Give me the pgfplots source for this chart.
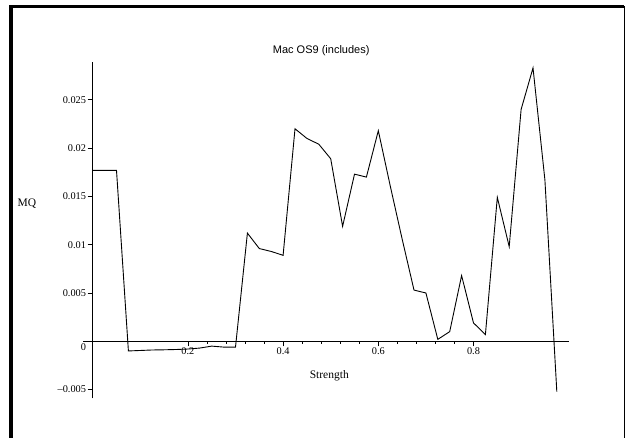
\documentclass[border=0pt]{standalone}
\usepackage{pgfplots}
\pgfplotsset{compat=1.18}
\usepackage{fontspec}
\setmainfont{Liberation Serif}
\newfontfamily\arial{Liberation Sans}
\begin{document}
\begin{tikzpicture}[x=1bp,y=1bp]
\useasboundingbox (0,0) rectangle (627,438);
% window frame
\draw[line width=3.5bp] (10.75,0) -- (10.75,431.5) -- (624,431.5);
\draw[line width=1bp] (624,431.5) -- (624,0);
\begin{axis}[
  at={(92.7bp,96.7bp)}, anchor=origin,
  x=476bp, y=9660bp,
  xmin=-0.02, xmax=1.0,
  ymin=-0.0059, ymax=0.02894,
  axis lines=middle,
  axis line style={line width=0.8bp, -},
  scaled x ticks=false, scaled y ticks=false,
  xtick={0.2,0.4,0.6,0.8},
  xticklabels={0.2,0.4,0.6,0.8},
  ytick={-0.005,0.005,0.01,0.015,0.02,0.025},
  yticklabels={–0.005,0.005,0.01,0.015,0.02,0.025},
  extra y ticks={0},
  extra y tick labels={0},
  extra y tick style={yticklabel style={yshift=-5.5bp}},
  hide obscured y ticks=false,
  minor x tick num=4,
  minor y tick num=4,
  tick align=outside,
  major tick length=5bp,
  minor tick length=2.5bp,
  tick style={line width=0.6bp, black},
  tick label style={font=\fontsize{10.3bp}{12bp}\selectfont},
  yticklabel style={inner sep=1.5bp},
  xticklabel style={inner sep=1.5bp},
  title={\arial Mac OS9 (includes)},
  title style={at={(axis cs:0.480,0.02919)}, anchor=base, font=\fontsize{11bp}{13bp}\selectfont, inner sep=0pt},
  xlabel={Strength},
  xlabel style={at={(axis cs:0.497,-0.00383)}, anchor=base, font=\fontsize{11.5bp}{13bp}\selectfont, inner sep=0pt},
  ylabel={MQ},
  ylabel style={at={(axis cs:-0.138,0.01398)}, anchor=base, rotate=0, font=\fontsize{11.5bp}{13bp}\selectfont, inner sep=0pt},
  clip=false,
]
\addplot[black, line width=0.9bp] coordinates {
(0,0.0177) (0.025,0.0177) (0.05,0.0177) (0.075,-0.0010) (0.1,-0.00095)
(0.125,-0.0009) (0.15,-0.00088) (0.175,-0.00085) (0.2,-0.0008) (0.225,-0.0007)
(0.25,-0.0005) (0.275,-0.0006) (0.3,-0.0006) (0.325,0.0112) (0.35,0.0096)
(0.375,0.0093) (0.4,0.0089) (0.425,0.0220) (0.45,0.0210) (0.475,0.0204)
(0.5,0.0189) (0.525,0.0119) (0.55,0.0173) (0.575,0.0170) (0.6,0.0218)
(0.625,0.0161) (0.65,0.0106) (0.675,0.0053) (0.7,0.0050) (0.725,0.0002)
(0.75,0.0010) (0.775,0.0068) (0.8,0.0019) (0.825,0.0007) (0.85,0.0149)
(0.875,0.0098) (0.9,0.0240) (0.925,0.0283) (0.95,0.0167) (0.975,-0.0052)
};
\end{axis}
\end{tikzpicture}
\end{document}
